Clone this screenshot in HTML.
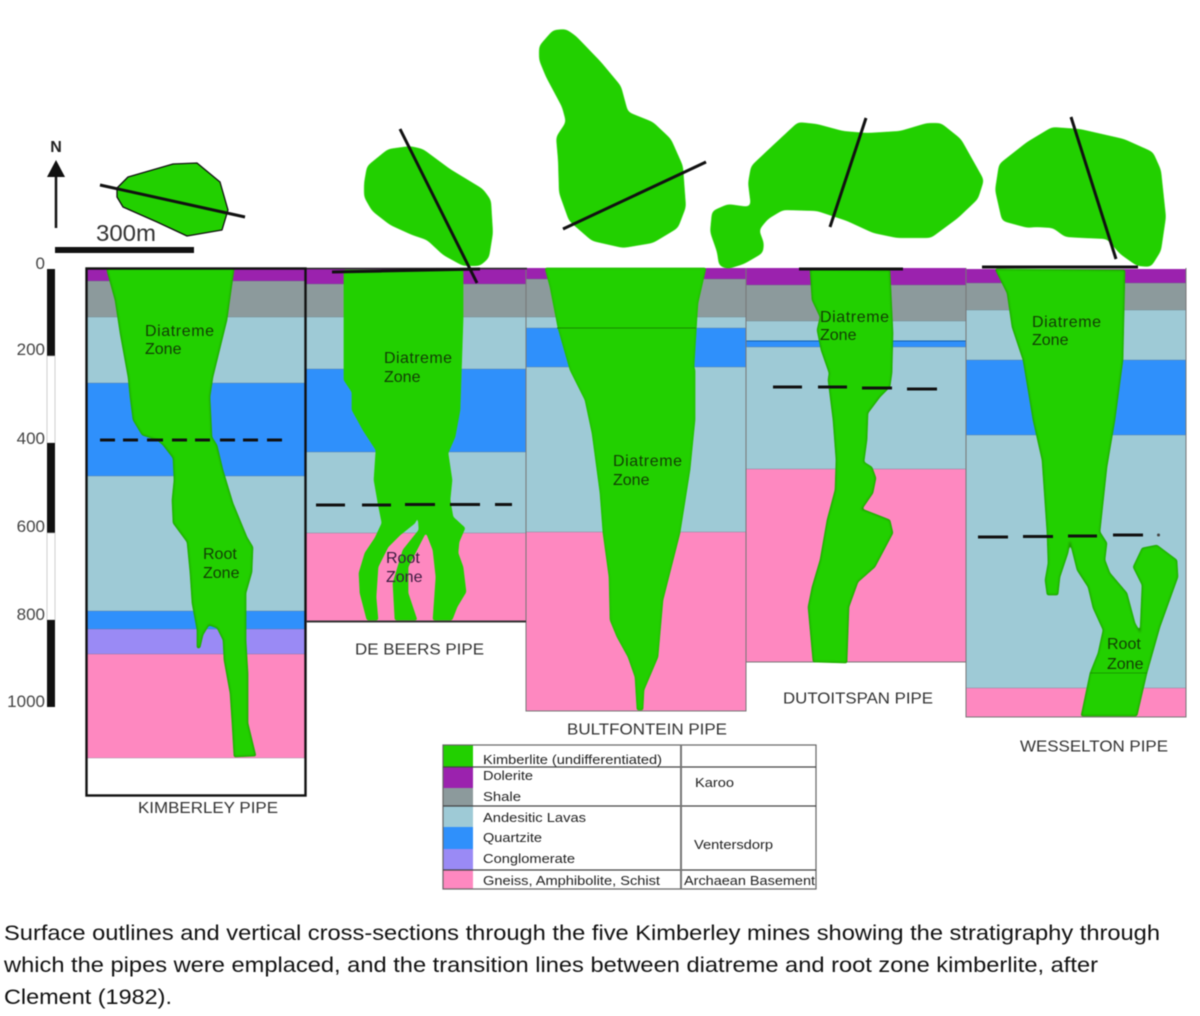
<!DOCTYPE html>
<html><head><meta charset="utf-8"><style>
html,body{margin:0;padding:0;background:#fff}
svg{display:block;position:absolute;left:0;top:0;filter:blur(.6px)}
text{font-family:"Liberation Sans",sans-serif}
.g{fill:#22d000;stroke:#1a7a00;stroke-width:.7;stroke-linejoin:round}
.s{fill:#22d000;stroke:none}
.z{font-size:16px;fill:#123c05}
.p{font-size:16px;fill:#333}
.d{font-size:17px;fill:#444}
.l{font-size:13px;fill:#222}
.c{font-size:21.5px;fill:#111}
.b{stroke:#111;fill:none;stroke-width:3}
</style></head><body>
<svg width="1200" height="1016" viewBox="0 0 1200 1016" xmlns="http://www.w3.org/2000/svg">
<defs>
<filter id="r1" x="0" y="0" width="1200" height="1016" filterUnits="userSpaceOnUse" color-interpolation-filters="sRGB"><feGaussianBlur stdDeviation="1.1"/><feComponentTransfer><feFuncA type="linear" slope="6" intercept="-2.5"/></feComponentTransfer></filter>
<filter id="r2" x="0" y="0" width="1200" height="1016" filterUnits="userSpaceOnUse" color-interpolation-filters="sRGB"><feGaussianBlur stdDeviation="2.8"/><feComponentTransfer><feFuncA type="linear" slope="8" intercept="-3.5"/></feComponentTransfer></filter>
</defs>
<rect width="1200" height="1016" fill="#fff"/>

<!-- Kimberley layers -->
<g shape-rendering="crispEdges">
<rect x="86" y="268" width="220" height="13" fill="#9b22ae"/><rect x="86" y="281" width="220" height="36" fill="#8c9a9c"/><rect x="86" y="317" width="220" height="66" fill="#9ecad6"/><rect x="86" y="383" width="220" height="93" fill="#2f90fb"/><rect x="86" y="476" width="220" height="135" fill="#9ecad6"/><rect x="86" y="611" width="220" height="18" fill="#2f90fb"/><rect x="86" y="629" width="220" height="25" fill="#9a8af5"/><rect x="86" y="654" width="220" height="104" fill="#fe88c0"/>
<!-- De Beers -->
<rect x="306" y="268" width="220" height="16" fill="#9b22ae"/><rect x="306" y="284" width="220" height="33" fill="#8c9a9c"/><rect x="306" y="317" width="220" height="52" fill="#9ecad6"/><rect x="306" y="369" width="220" height="83" fill="#2f90fb"/><rect x="306" y="452" width="220" height="81" fill="#9ecad6"/><rect x="306" y="533" width="220" height="88" fill="#fe88c0"/>
<!-- Bultfontein -->
<rect x="526" y="268" width="220" height="11" fill="#9b22ae"/><rect x="526" y="279" width="220" height="38" fill="#8c9a9c"/><rect x="526" y="317" width="220" height="11" fill="#9ecad6"/><rect x="526" y="328" width="220" height="39" fill="#2f90fb"/><rect x="526" y="367" width="220" height="165" fill="#9ecad6"/><rect x="526" y="532" width="220" height="179" fill="#fe88c0"/>
<!-- Dutoitspan -->
<rect x="746" y="268" width="220" height="17" fill="#9b22ae"/><rect x="746" y="285" width="220" height="36" fill="#8c9a9c"/><rect x="746" y="321" width="220" height="20" fill="#9ecad6"/><rect x="746" y="341" width="220" height="6" fill="#2f90fb"/><rect x="746" y="347" width="220" height="122" fill="#9ecad6"/><rect x="746" y="469" width="220" height="193" fill="#fe88c0"/>
<!-- Wesselton -->
<rect x="966" y="269" width="220" height="14" fill="#9b22ae"/><rect x="966" y="283" width="220" height="27" fill="#8c9a9c"/><rect x="966" y="310" width="220" height="50" fill="#9ecad6"/><rect x="966" y="360" width="220" height="75" fill="#2f90fb"/><rect x="966" y="435" width="220" height="253" fill="#9ecad6"/><rect x="966" y="688" width="220" height="29" fill="#fe88c0"/>
</g>
<!-- thin layer edges -->
<path d="M86 281H306M86 317H306M86 383H306M86 476H306M86 611H306M86 629H306M86 654H306M86 758H306M306 284H526M306 317H526M306 369H526M306 452H526M306 533H526M526 279H746M526 317H746M526 328H746M526 367H746M526 532H746M746 285H966M746 321H966M746 347H966M746 469H966M966 283H1186M966 310H1186M966 360H1186M966 435H1186M966 688H1186" stroke="#5a6a78" stroke-width=".6" opacity=".55" fill="none"/>
<path d="M746 341H966" stroke="#1060b0" stroke-width="1"/>
<path d="M526 268V711H746V268M966 268V717H1186V268M746 662H966" stroke="#777" stroke-width="1" fill="none"/>

<!-- Pipes -->
<g filter="url(#r1)">
<polygon class="g" points="107,268 107,271 115,300 120,333 128,377 130,397 133,420 142,435 157,440 163,445 173,458 174,480 172,500 173,523 187,542 190,573 192,603 197,630 197,648 200,648 203,635 209,625 217,628 223,640 224,660 230,693 232,723 234,757 256,756 248,723 248,673 246,640 246,593 252,572 253,547 247,537 233,503 223,470 217,445 212,437 210,397 213,377 227,320 234,270 234,268"/>
<polygon class="g" style="stroke:#22d000" points="344,270 344,380 352,392 352,410 363,430 376,450 374,480 378,503 382,523 375,538 365,553 359,573 360,593 367,620 378,620 376,597 378,567 388,547 400,535 415,523 418,515 419,530 403,550 393,583 395,620 417,620 408,593 408,567 426,532 433,550 436,577 433,620 452,620 457,607 466,592 463,567 458,553 459,542 465,528 453,517 450,500 452,480 448,453 455,437 460,410 463,320 463,270"/>
<polygon class="g" style="stroke:#1fa800" points="545,268 550,287 558,328 570,370 585,400 592,433 600,493 603,533 609,577 610,620 617,637 628,657 635,677 637,710 643,710 644,690 658,657 663,600 680,533 690,470 695,420 695,370 694,367 697,317 698,303 706,268"/>
<polygon class="g" points="810,269 812,300 820,317 817,330 821,350 829,373 828,380 833,420 836,460 835,490 827,520 820,560 812,587 808,607 813,662 847,663 849,607 858,582 875,567 893,533 890,520 880,516 862,509 873,493 876,478 872,467 864,462 867,440 868,413 880,397 890,387 892,373 893,333 890,270"/>
<polygon class="g" points="995,269 1007,293 1012,327 1023,360 1033,420 1042,460 1047,533 1048,563 1045,580 1047,595 1058,595 1060,577 1068,553 1070,542 1077,570 1088,587 1093,608 1103,630 1098,653 1090,673 1081,716 1137,716 1147,673 1160,627 1178,577 1177,560 1157,545 1142,548 1133,567 1142,585 1140,632 1135,623 1127,593 1110,573 1105,560 1107,543 1100,532 1107,467 1115,420 1123,360 1125,270"/>
</g>
<path d="M557 328H696" stroke="#178a00" stroke-width="1" fill="none"/>
<path d="M1090 673H1147" stroke="#178a00" stroke-width=".8"/>

<!-- Panel frames -->
<path d="M86.500 268.500H527" stroke="#222" stroke-width="1.500" fill="none"/>
<rect x="86.500" y="268.500" width="219" height="527" fill="none" stroke="#111" stroke-width="2.400"/>
<path d="M306 621.500H526" stroke="#333" stroke-width="2" fill="none"/>

<!-- Surface outlines -->
<polygon points="117,188 128,177 173,164 197,163 220,182 228,210 222,230 187,236 157,222 123,207 117,197" fill="#22d000" stroke="#111" stroke-width="1.300" stroke-linejoin="round"/>
<g filter="url(#r2)">
<polygon class="s" points="364,183 367,166 388,149 410,146 423,149 450,169 483,189 491,200 493,233 489,258 480,266 463,266 443,255 427,240 412,235 390,225 372,211 364,197"/>
<polygon class="s" points="553,30 566,29 576,36 601,62 621,86 628,112 653,122 671,139 683,166 686,207 678,228 653,243 623,248 592,241 569,221 559,193 558,160 556,137 566,122 562,107 546,77 539,60 539,46"/>
<polygon class="s" points="798,122 817,124 843,131 867,133 900,131 927,123 941,123 961,139 984,180 978,199 958,218 931,238 897,238 873,233 847,221 817,211 783,210 768,219 759,230 764,243 763,253 744,264 728,269 719,266 717,252 710,232 712,211 728,204 742,206 751,207 748,183 751,166 769,149"/>
<polygon class="s" points="1052,127 1080,129 1124,139 1153,152 1161,170 1166,217 1161,251 1151,267 1137,266 1120,254 1107,239 1083,238 1065,237 1053,228 1035,227 1028,228 1002,221 995,190 999,164 1027,142"/>
</g>

<!-- Section lines -->
<g class="b">
<path d="M100 185L245 217"/><path d="M400 129L477 283"/><path d="M332 272L480 269"/><path d="M563 229L706 162"/><path d="M866 118L830 227"/><path d="M799 269H903"/><path d="M1071 117L1116 259"/><path d="M982 267H1138"/>
<path d="M100 440H115M123 440H138M147 440H163M172 440H187M195 440H210M220 440H235M243 440H258M267 440H282"/>
<path d="M316 505H345M362 505H391M405 504.500H435M450 504.500H480M495 504.500H512"/>
<path d="M773 387H802M818 387H847M862 388H892M907 389H937"/>
<path d="M978 537H1008M1023 536.500H1053M1068 536H1097M1113 535H1143"/>
</g>
<circle cx="1158.500" cy="535" r="1.500" fill="#444"/>

<!-- North arrow and scale -->
<text x="56" y="152" font-size="16" font-weight="bold" text-anchor="middle" fill="#222">N</text>
<path d="M56 177V228" stroke="#111" stroke-width="2.500"/>
<polygon points="56,160 65,177 47,177" fill="#111"/>
<text x="96" y="241" font-size="23" fill="#333" textLength="60" lengthAdjust="spacingAndGlyphs">300m</text>
<rect x="55" y="247" width="139" height="6" fill="#111"/>

<!-- Depth bar -->
<rect x="47" y="269" width="8" height="87" fill="#111"/><rect x="47" y="356" width="8" height="87" fill="#fff" stroke="#bbb" stroke-width=".7"/><rect x="47" y="443" width="8" height="90" fill="#111"/><rect x="47" y="533" width="8" height="87" fill="#fff" stroke="#bbb" stroke-width=".7"/><rect x="47" y="620" width="8" height="87" fill="#111"/>
<g class="d" text-anchor="end"><text x="45" y="269">0</text><text x="45" y="355">200</text><text x="45" y="444">400</text><text x="45" y="532">600</text><text x="45" y="620">800</text><text x="45" y="707">1000</text></g>

<!-- Zone labels -->
<g class="z">
<text x="145" y="336" textLength="69">Diatreme</text><text x="145" y="354">Zone</text>
<text x="203" y="559">Root</text><text x="203" y="578">Zone</text>
<text x="384" y="363" textLength="68">Diatreme</text><text x="384" y="382">Zone</text>
<text x="386" y="563" style="fill:#3c1a40">Root</text><text x="386" y="582" style="fill:#3c1a40">Zone</text>
<text x="613" y="466" textLength="69">Diatreme</text><text x="613" y="485">Zone</text>
<text x="820" y="322" textLength="69">Diatreme</text><text x="820" y="340">Zone</text>
<text x="1032" y="327" textLength="69">Diatreme</text><text x="1032" y="345">Zone</text>
<text x="1107" y="649">Root</text><text x="1107" y="669">Zone</text>
</g>

<!-- Pipe names -->
<g class="p">
<text x="138" y="813" textLength="140" lengthAdjust="spacingAndGlyphs">KIMBERLEY PIPE</text>
<text x="355" y="654.500" textLength="129" lengthAdjust="spacingAndGlyphs">DE BEERS PIPE</text>
<text x="567" y="734.500" textLength="160" lengthAdjust="spacingAndGlyphs">BULTFONTEIN PIPE</text>
<text x="783" y="703.500" textLength="150" lengthAdjust="spacingAndGlyphs">DUTOITSPAN PIPE</text>
<text x="1020" y="751.500" textLength="148" lengthAdjust="spacingAndGlyphs">WESSELTON PIPE</text>
</g>

<!-- Legend -->
<g shape-rendering="crispEdges">
<rect x="443" y="745" width="30" height="22" fill="#22d000"/><rect x="443" y="767" width="30" height="21" fill="#9b22ae"/><rect x="443" y="788" width="30" height="18" fill="#8c9a9c"/><rect x="443" y="806" width="30" height="21" fill="#9ecad6"/><rect x="443" y="827" width="30" height="22" fill="#2f90fb"/><rect x="443" y="849" width="30" height="21" fill="#9a8af5"/><rect x="443" y="870" width="30" height="19" fill="#fe88c0"/>
</g>
<rect x="443" y="745" width="373" height="144" fill="none" stroke="#666" stroke-width="1.200"/>
<path d="M443 767H816M443 806H816M443 870H816" stroke="#444" stroke-width="1.200"/>
<path d="M681 745V889" stroke="#777" stroke-width="2"/>
<g class="l">
<text x="483" y="764" textLength="179" lengthAdjust="spacingAndGlyphs">Kimberlite (undifferentiated)</text>
<text x="483" y="780" textLength="50" lengthAdjust="spacingAndGlyphs">Dolerite</text>
<text x="483" y="801" textLength="38" lengthAdjust="spacingAndGlyphs">Shale</text>
<text x="483" y="822" textLength="103" lengthAdjust="spacingAndGlyphs">Andesitic Lavas</text>
<text x="483" y="842" textLength="59" lengthAdjust="spacingAndGlyphs">Quartzite</text>
<text x="483" y="863" textLength="92" lengthAdjust="spacingAndGlyphs">Conglomerate</text>
<text x="483" y="885" textLength="177" lengthAdjust="spacingAndGlyphs">Gneiss, Amphibolite, Schist</text>
<text x="695" y="787" textLength="39" lengthAdjust="spacingAndGlyphs">Karoo</text>
<text x="694" y="849" textLength="79" lengthAdjust="spacingAndGlyphs">Ventersdorp</text>
<text x="684" y="885" textLength="131" lengthAdjust="spacingAndGlyphs">Archaean Basement</text>
</g>

<!-- Caption -->
<g class="c">
<text x="4" y="940" textLength="1156" lengthAdjust="spacingAndGlyphs">Surface outlines and vertical cross-sections through the five Kimberley mines showing the stratigraphy through</text>
<text x="4" y="972" textLength="1094" lengthAdjust="spacingAndGlyphs">which the pipes were emplaced, and the transition lines between diatreme and root zone kimberlite, after</text>
<text x="4" y="1004" textLength="168" lengthAdjust="spacingAndGlyphs">Clement (1982).</text>
</g>
</svg>
</body></html>
